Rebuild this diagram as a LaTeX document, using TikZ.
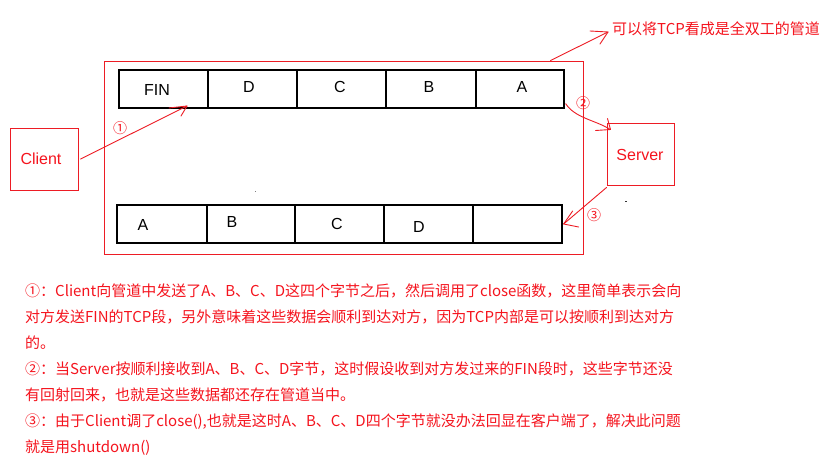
\documentclass[tikz,border=0pt]{standalone}
\usepackage{fontspec}
\setmainfont{Liberation Sans}
\newfontfamily\cjk{Noto Sans CJK SC}
\usetikzlibrary{arrows.meta}
\definecolor{pipered}{RGB}{237,28,36}
\definecolor{txtred}{RGB}{245,20,30}
\tikzset{
  redbox/.style={draw=pipered, line width=1pt, inner sep=0pt},
  cellbox/.style={draw=black, line width=1.3pt, minimum height=38pt, inner sep=0pt},
  celltxt/.style={font=\fontsize{16}{16}\selectfont, text=black, inner sep=0pt},
  redtxt/.style={font=\fontsize{16}{16}\selectfont, text=txtred, inner sep=0pt},
  numtxt/.style={font=\cjk\fontsize{14}{14}\selectfont, text=txtred, inner sep=0pt},
  paraline/.style={font=\cjk\fontsize{15}{15}\selectfont, text=txtred, anchor=base west, inner sep=0pt},
  handline/.style={draw=pipered, line width=0.9pt, line cap=round, line join=round},
}
\begin{document}
\begin{tikzpicture}[x=1pt,y=-1pt]
\useasboundingbox[fill=white] (0,0) rectangle (828,469);

% pipe
\node[redbox, minimum width=479pt, minimum height=193pt] (pipe) at (343.5,157.5) {};
% client / server
\node[redbox, minimum width=68pt, minimum height=62pt] (client) at (44,159) {};
\node[redtxt] (clienttxt) at (41,159) {Client};
\node[redbox, minimum width=67pt, minimum height=62pt] (server) at (640.5,154) {};
\node[redtxt] (servertxt) at (640,155) {Server};

% top row
\node[cellbox, minimum width=89pt] (t1) at (163.5,89) {};
\node[cellbox, minimum width=89pt] (t2) at (252.5,89) {};
\node[cellbox, minimum width=89pt] (t3) at (341.5,89) {};
\node[cellbox, minimum width=90pt] (t4) at (431,89) {};
\node[cellbox, minimum width=88pt] (t5) at (520,89) {};
\node[celltxt] (l1) at (157,90) {FIN};
\node[celltxt] (l2) at (249,87) {D};
\node[celltxt] (l3) at (340,87) {C};
\node[celltxt] (l4) at (429,87) {B};
\node[celltxt] (l5) at (522,87) {A};

% bottom row
\node[cellbox, minimum width=90pt] (b1) at (162,224) {};
\node[cellbox, minimum width=88pt] (b2) at (251,224) {};
\node[cellbox, minimum width=89pt] (b3) at (339.5,224) {};
\node[cellbox, minimum width=89pt] (b4) at (428.5,224) {};
\node[cellbox, minimum width=89pt] (b5) at (517.5,224) {};
\node[celltxt] (m1) at (143,225) {A};
\node[celltxt] (m2) at (232,222) {B};
\node[celltxt] (m3) at (337,224) {C};
\node[celltxt] (m4) at (419,227) {D};

% title
\node[font=\cjk\fontsize{15}{15}\selectfont, text=txtred, anchor=west, inner sep=0pt] (title) at (612,29) {可以将TCP看成是全双工的管道};

% circled numbers
\node[numtxt] (n1) at (120,128) {①};
\node[numtxt] (n2) at (583,103) {②};
\node[numtxt] (n3) at (594,215) {③};

% connectors (hand-drawn open arrowheads)
\coordinate (a1e) at (187,106);
\draw[handline] ([xshift=2pt]client.east) -- (a1e);
\draw[handline] (a1e) -- ++(-18,2) (a1e) -- ++(-6,10);

\coordinate (a2e) at ([shift={(4,7)}]server.north west);
\draw[handline] ([shift={(1,-5)}]t5.south east) .. controls (575,118) and (595,120) .. (a2e);
\draw[handline] (a2e) -- ++(-15,1) (a2e) -- ++(-3,-11);

\coordinate (a3e) at ([xshift=1pt]b5.east);
\draw[handline] ([shift={(0,2)}]server.south west) -- (a3e);
\draw[handline] (a3e) -- ++(9,-13) (a3e) -- ++(15,3);

\coordinate (a4e) at ([shift={(-4,3)}]title.west);
\draw[handline] ([xshift=-33pt]pipe.north east) -- (a4e);
\draw[handline] (a4e) -- ++(-18,-1) (a4e) -- ++(-8,12);

% specks
\fill[gray] (254.5,190.5) rectangle (256,191.5);
\fill[black!80] (625,200.5) rectangle (626.5,202);

% paragraph
\node[paraline] (p1) at (25,296.5) {①：Client向管道中发送了A、B、C、D这四个字节之后，然后调用了close函数，这里简单表示会向};
\node[paraline] (p2) at (25,322.5) {对方发送FIN的TCP段，另外意味着这些数据会顺利到达对方，因为TCP内部是可以按顺利到达对方};
\node[paraline] (p3) at (25,348) {的。};
\node[paraline] (p4) at (25,374) {②：当Server按顺利接收到A、B、C、D字节，这时假设收到对方发过来的FIN段时，这些字节还没};
\node[paraline] (p5) at (25,400) {有回射回来，也就是这些数据都还存在管道当中。};
\node[paraline] (p6) at (25,426) {③：由于Client调了close(),也就是这时A、B、C、D四个字节就没办法回显在客户端了，解决此问题};
\node[paraline] (p7) at (25,452) {就是用shutdown()};
\end{tikzpicture}
\end{document}
